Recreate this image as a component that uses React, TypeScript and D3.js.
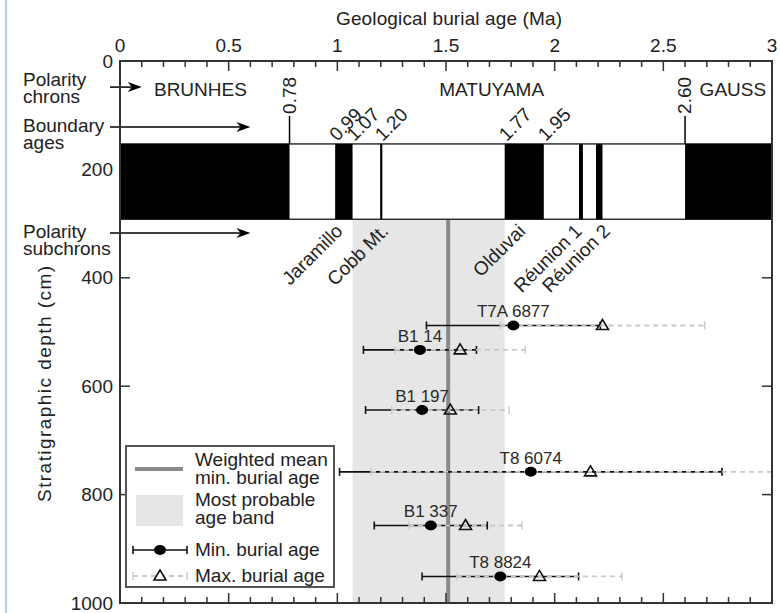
import React from "react";
import * as d3 from "d3";

// ---- data ----
const topTicks = [0, 0.5, 1, 1.5, 2, 2.5, 3];
const minorTicks = d3.range(0, 3.0001, 0.1);
const depthTicks = [0, 200, 400, 600, 800, 1000];
const depthInnerTicks = [400, 600, 800];
const normalIntervals: [number, number][] = [
  [0, 0.78], [0.99, 1.07], [1.197, 1.207], [1.77, 1.95], [2.112, 2.13], [2.19, 2.22], [2.6, 3],
];
const boundaryVertical = [0.78, 2.6];
const boundaryVerticalLabels = ["0.78", "2.60"];
const boundaryDiagonal = [0.99, 1.07, 1.2, 1.77, 1.95];
const boundaryDiagonalLabels = ["0.99", "1.07", "1.20", "1.77", "1.95"];
const chronNames = ["BRUNHES", "MATUYAMA", "GAUSS"];
const chronLabelAge = [0.37, 1.71, 2.82];
const subchronNames = ["Jaramillo", "Cobb Mt.", "Olduvai", "Réunion 1", "Réunion 2"];
const subchronLabelAge = [1.03, 1.24, 1.87, 2.13, 2.26];
const samples = ["T7A 6877", "B1 14", "B1 197", "T8 6074", "B1 337", "T8 8824"];
const depths = [488, 533, 644, 758, 857, 951];
const minAge = [1.81, 1.38, 1.39, 1.89, 1.43, 1.75];
const minErr = [0.4, 0.26, 0.26, 0.88, 0.26, 0.36];
const maxAge = [2.22, 1.565, 1.52, 2.165, 1.59, 1.93];
const maxErr = [0.47, 0.3, 0.27, 1.01, 0.26, 0.38];
const weightedMean = 1.51;
const bandRange = [1.07, 1.77];
const polarityBandDepth = [153, 292];
const rowDepths = { chrons: 50, boundary: 122, subchrons: 323 };

const FONT = "'Liberation Sans', Arial, Helvetica, sans-serif";

export default function App() {
  const W = 780, H = 613;
  const L = 120, R = 772, T = 61, B = 603;
  const x = d3.scaleLinear().domain([0, 3]).range([L, R]);
  const y = d3.scaleLinear().domain([0, 1000]).range([T, B]);
  const fs = 19;
  const clampX = (v: number) => x(Math.max(0, Math.min(3, v)));

  const arrow = (x1: number, x2: number, yy: number, key: string) => (
    <g key={key}>
      <line x1={x1} x2={x2 - 10} y1={yy} y2={yy} stroke="#000" strokeWidth={1.5} />
      <path d={`M${x2},${yy} L${x2 - 14},${yy - 5} L${x2 - 10},${yy} L${x2 - 14},${yy + 5} Z`} fill="#000" />
    </g>
  );

  const bandTop = y(polarityBandDepth[0]);
  const bandBot = y(polarityBandDepth[1]);

  return (
    <svg width={W} height={H} style={{ position: "absolute", left: 0, top: 0, background: "#fff" }} fontFamily={FONT}>
      <rect x={0} y={0} width={W} height={H} fill="#fff" />
      <line x1={6} x2={6} y1={0} y2={H} stroke="#a3cff8" strokeWidth={2} />

      {/* most probable band + weighted mean */}
      <rect x={x(bandRange[0])} y={bandBot} width={x(bandRange[1]) - x(bandRange[0])} height={B - bandBot} fill="#e6e6e6" />
      <line x1={x(weightedMean)} x2={x(weightedMean)} y1={bandBot} y2={B} stroke="#8a8a8a" strokeWidth={4} />

      {/* polarity band */}
      <rect x={L} y={bandTop} width={R - L} height={bandBot - bandTop} fill="#fff" stroke="#333" strokeWidth={1.5} />
      {normalIntervals.map(([a, b], i) => (
        <rect key={"n" + i} x={x(a)} y={bandTop} width={x(b) - x(a)} height={bandBot - bandTop} fill="#000" />
      ))}

      {/* boundary vertical lines */}
      {boundaryVertical.map((a, i) => (
        <g key={"bv" + i}>
          <line x1={x(a)} x2={x(a)} y1={bandTop} y2={bandTop - 28} stroke="#000" strokeWidth={1.5} />
          <text transform={`translate(${x(a) + 6},${bandTop - 30}) rotate(-90)`} fontSize={fs} fill="#222">
            {boundaryVerticalLabels[i]}
          </text>
        </g>
      ))}
      {boundaryDiagonal.map((a, i) => (
        <text key={"bd" + i} transform={`translate(${x(a) + 2},${bandTop - 2}) rotate(-45)`} fontSize={fs} fill="#222">
          {boundaryDiagonalLabels[i]}
        </text>
      ))}

      {/* chron names */}
      {chronNames.map((n, i) => (
        <text key={"c" + i} x={x(chronLabelAge[i])} y={y(rowDepths.chrons) + 8} textAnchor="middle" fontSize={fs} fill="#222">
          {n}
        </text>
      ))}

      {/* subchron names */}
      {subchronNames.map((n, i) => (
        <text key={"s" + i} transform={`translate(${x(subchronLabelAge[i])},${bandBot + 13}) rotate(-45)`} textAnchor="end" fontSize={fs} fill="#222">
          {n}
        </text>
      ))}

      {/* left annotations */}
      <g fontSize={fs} fill="#222">
        <text x={23} y={y(rowDepths.chrons) - 2}>Polarity</text>
        <text x={23} y={y(rowDepths.chrons) + 15}>chrons</text>
        <text x={23} y={y(rowDepths.boundary) + 5}>Boundary</text>
        <text x={23} y={y(rowDepths.boundary) + 22}>ages</text>
        <text x={23} y={y(rowDepths.subchrons) + 2}>Polarity</text>
        <text x={23} y={y(rowDepths.subchrons) + 19}>subchrons</text>
      </g>
      {arrow(110, x(0.1), y(rowDepths.chrons) - 1, "a1")}
      {arrow(110, x(0.6), y(rowDepths.boundary), "a2")}
      {arrow(110, x(0.6), y(rowDepths.subchrons) - 3, "a3")}

      {/* error bars */}
      {samples.map((s, i) => {
        const yy = y(depths[i]);
        const a1 = clampX(minAge[i] - minErr[i]);
        const a2 = clampX(minAge[i] + minErr[i]);
        const b1 = clampX(maxAge[i] - maxErr[i]);
        const b2 = clampX(maxAge[i] + maxErr[i]);
        return (
          <g key={"e" + i}>
            <line x1={a1} x2={a2} y1={yy} y2={yy} stroke="#111" strokeWidth={1.6} />
            <line x1={a1} x2={a1} y1={yy - 4} y2={yy + 4} stroke="#111" strokeWidth={1.6} />
            <line x1={a2} x2={a2} y1={yy - 4} y2={yy + 4} stroke="#111" strokeWidth={1.6} />
            <line x1={b1} x2={b2} y1={yy} y2={yy} stroke="#c8c8c8" strokeWidth={1.8} strokeDasharray="5,4" />
            <line x1={b1} x2={b1} y1={yy - 4} y2={yy + 4} stroke="#c8c8c8" strokeWidth={1.4} />
            {maxAge[i] + maxErr[i] <= 3 && (
              <line x1={b2} x2={b2} y1={yy - 4} y2={yy + 4} stroke="#c8c8c8" strokeWidth={1.4} />
            )}
            <ellipse cx={x(minAge[i])} cy={yy} rx={6} ry={5} fill="#000" />
            <path d={`M${x(maxAge[i])},${yy - 6} L${x(maxAge[i]) + 6},${yy + 4} L${x(maxAge[i]) - 6},${yy + 4} Z`} fill="none" stroke="#111" strokeWidth={1.6} />
            <text x={x(minAge[i])} y={yy - 8} textAnchor="middle" fontSize={17} fill="#2a2a2a">{s}</text>
          </g>
        );
      })}

      {/* frame */}
      <rect x={L} y={T} width={R - L} height={B - T} fill="none" stroke="#333" strokeWidth={2} />

      {/* top & bottom ticks */}
      {minorTicks.map((t, i) => {
        const major = Math.abs(t * 2 - Math.round(t * 2)) < 1e-6;
        const len = major ? 10 : 6;
        return (
          <g key={"t" + i}>
            <line x1={x(t)} x2={x(t)} y1={T} y2={T + len} stroke="#333" strokeWidth={1.5} />
            <line x1={x(t)} x2={x(t)} y1={B} y2={B - len} stroke="#333" strokeWidth={1.5} />
          </g>
        );
      })}
      {topTicks.map((t, i) => (
        <text key={"tl" + i} x={x(t)} y={T - 9} textAnchor="middle" fontSize={fs} fill="#222">{d3.format("")(t)}</text>
      ))}
      <text x={449} y={25} textAnchor="middle" fontSize={fs} textLength={226} lengthAdjust="spacing" fill="#222">
        Geological burial age (Ma)
      </text>

      {/* left/right ticks */}
      {depthInnerTicks.map((d, i) => (
        <g key={"d" + i}>
          <line x1={L} x2={L + 10} y1={y(d)} y2={y(d)} stroke="#333" strokeWidth={1.5} />
          <line x1={R} x2={R - 10} y1={y(d)} y2={y(d)} stroke="#333" strokeWidth={1.5} />
        </g>
      ))}
      {depthTicks.map((d, i) => (
        <text key={"dl" + i} x={113} y={y(d)} dy="0.35em" textAnchor="end" fontSize={fs} fill="#222">{d}</text>
      ))}
      <text transform={`translate(51,384) rotate(-90)`} textAnchor="middle" fontSize={fs} textLength={236} lengthAdjust="spacing" fill="#222">
        Stratigraphic depth (cm)
      </text>

      {/* legend */}
      <g>
        <rect x={126} y={446} width={208} height={141} fill="#fff" stroke="#555" strokeWidth={2} />
        <line x1={135} x2={183} y1={469} y2={469} stroke="#8a8a8a" strokeWidth={4} />
        <rect x={136} y={495} width={47} height={31} fill="#e6e6e6" />
        <line x1={133} x2={187} y1={550} y2={550} stroke="#111" strokeWidth={1.6} />
        <line x1={133} x2={133} y1={546} y2={554} stroke="#111" strokeWidth={1.6} />
        <line x1={187} x2={187} y1={546} y2={554} stroke="#111" strokeWidth={1.6} />
        <ellipse cx={160} cy={550} rx={6} ry={5} fill="#000" />
        <line x1={133} x2={187} y1={576} y2={576} stroke="#c8c8c8" strokeWidth={1.8} strokeDasharray="5,4" />
        <line x1={133} x2={133} y1={572} y2={580} stroke="#c8c8c8" strokeWidth={1.4} />
        <line x1={187} x2={187} y1={572} y2={580} stroke="#c8c8c8" strokeWidth={1.4} />
        <path d="M160,570 L166,580 L154,580 Z" fill="#fff" stroke="#111" strokeWidth={1.6} />
        <g fontSize={fs} fill="#222">
          <text x={195} y={466}>Weighted mean</text>
          <text x={195} y={484}>min. burial age</text>
          <text x={195} y={506}>Most probable</text>
          <text x={195} y={524}>age band</text>
          <text x={195} y={556}>Min. burial age</text>
          <text x={195} y={582}>Max. burial age</text>
        </g>
      </g>
    </svg>
  );
}
